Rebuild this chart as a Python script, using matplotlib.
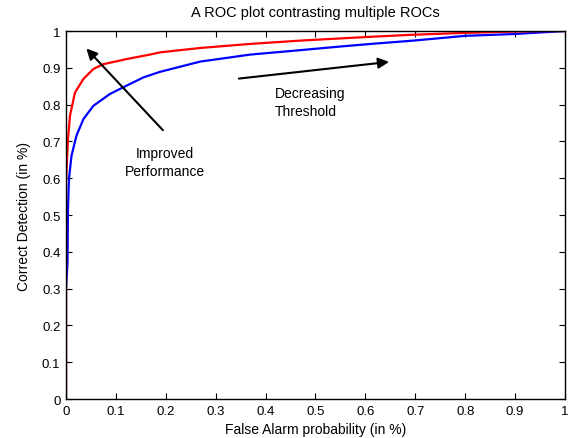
import numpy as np
import matplotlib
matplotlib.use("Agg")
import matplotlib.pyplot as plt

plt.rcParams['font.family'] = ['Liberation Sans', 'DejaVu Sans']

# ROC curve points
red_fpr = [0, 0, 0.002, 0.004, 0.008, 0.018, 0.035, 0.055, 0.075, 0.122, 0.168, 0.188,
           0.269, 0.369, 0.469, 0.55, 0.62, 0.696, 0.80, 0.88, 0.95, 1.0]
red_tpr = [0, 0.59, 0.65, 0.707, 0.77, 0.833, 0.87, 0.897, 0.91, 0.924, 0.936, 0.942,
           0.954, 0.965, 0.974, 0.98, 0.985, 0.99, 0.995, 0.998, 1.0, 1.0]

blue_fpr = [0, 0, 0.003, 0.004, 0.006, 0.011, 0.021, 0.035, 0.055, 0.088, 0.122, 0.155,
            0.188, 0.269, 0.369, 0.469, 0.55, 0.62, 0.696, 0.80, 0.9, 0.936, 1.0]
blue_tpr = [0, 0.30, 0.372, 0.52, 0.60, 0.661, 0.716, 0.761, 0.797, 0.829, 0.852, 0.874,
            0.889, 0.917, 0.936, 0.948, 0.958, 0.966, 0.974, 0.987, 0.992, 0.995, 1.0]

ticks = np.round(np.arange(0, 1.01, 0.1), 1)
tick_labels = ['0', '0.1', '0.2', '0.3', '0.4', '0.5', '0.6', '0.7', '0.8', '0.9', '1']

fig = plt.figure(figsize=(5.7, 4.39), dpi=100)
ax = fig.add_axes([0.1158, 0.0888, 0.8754, 0.8382])

ax.plot(blue_fpr, blue_tpr, color='#0000ff', lw=1.6)
ax.plot(red_fpr, red_tpr, color='#ff0000', lw=1.6)

ax.set_xlim(0, 1)
ax.set_ylim(0, 1)
ax.set_xticks(ticks)
ax.set_xticklabels(tick_labels)
ax.set_yticks(ticks)
ax.set_yticklabels(tick_labels)
ax.tick_params(direction='in', top=True, right=True, labelsize=9.5, length=4, pad=4)
for s in ax.spines.values():
    s.set_linewidth(1.0)

ax.set_title("A ROC plot contrasting multiple ROCs", fontsize=10.5, pad=11)
ax.set_xlabel("False Alarm probability (in %)", fontsize=10, labelpad=4)
ax.set_ylabel("Correct Detection (in %)", fontsize=10, labelpad=8)

ax.annotate("", xy=(0.037, 0.958), xytext=(0.198, 0.725),
            arrowprops=dict(arrowstyle='-|>', color='black', lw=1.5, mutation_scale=16))
ax.annotate("", xy=(0.653, 0.917), xytext=(0.341, 0.870),
            arrowprops=dict(arrowstyle='-|>', color='black', lw=1.5, mutation_scale=16))
ax.text(0.198, 0.644, "Improved\nPerformance", ha='center', va='center', fontsize=10,
        linespacing=1.3)
ax.text(0.419, 0.807, "Decreasing\nThreshold", ha='left', va='center', fontsize=10,
        linespacing=1.3)

fig.savefig("out.png", dpi=100)
